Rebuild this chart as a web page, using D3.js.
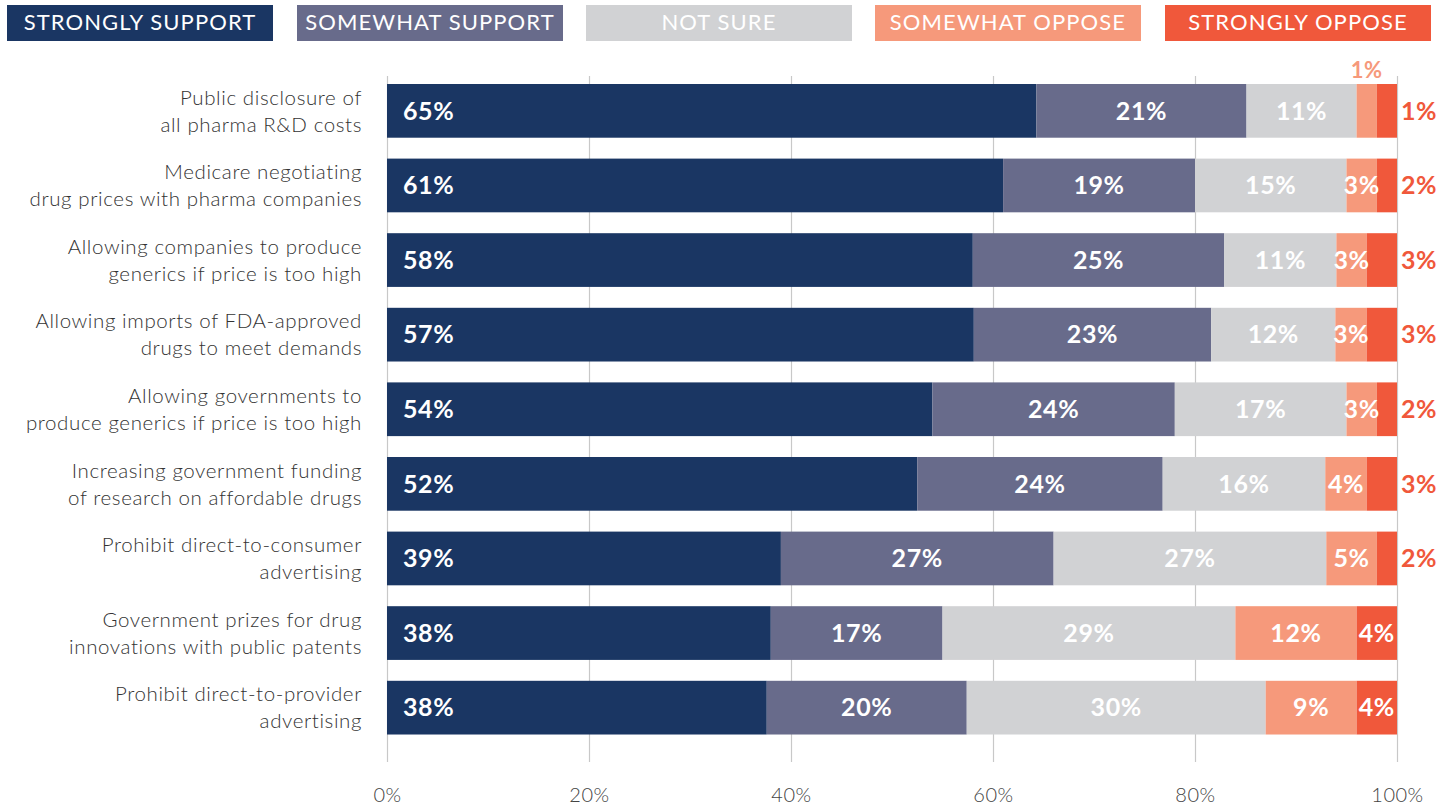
<!DOCTYPE html>
<html><head><meta charset="utf-8">
<script src="https://cdn.jsdelivr.net/npm/d3@7"></script>
<style>
html,body{margin:0;padding:0;background:#fff;}
svg{display:block;font-family:Lato,"Open Sans",sans-serif;}
</style></head>
<body>
<svg id="chart" width="1452" height="806"></svg>
<script>
const categories = [
  ["Public disclosure of","all pharma R&D costs"],
  ["Medicare negotiating","drug prices with pharma companies"],
  ["Allowing companies to produce","generics if price is too high"],
  ["Allowing imports of FDA-approved","drugs to meet demands"],
  ["Allowing governments to","produce generics if price is too high"],
  ["Increasing government funding","of research on affordable drugs"],
  ["Prohibit direct-to-consumer","advertising"],
  ["Government prizes for drug","innovations with public patents"],
  ["Prohibit direct-to-provider","advertising"]
];
const seriesNames = ["STRONGLY SUPPORT","SOMEWHAT SUPPORT","NOT SURE","SOMEWHAT OPPOSE","STRONGLY OPPOSE"];
const seriesColors = ["#1a3663","#686b8b","#d1d2d4","#f6997b","#f0583b"];
// segment widths (percent of respondents) as drawn
const stronglySupport = [64.3, 61, 58, 58.1, 54, 52.5, 39, 38, 37.6];
const somewhatSupport = [20.8, 19, 24.9, 23.5, 24, 24.3, 27, 17, 19.8];
const notSure         = [10.9, 15, 11.1, 12.3, 17, 16.1, 27, 29, 29.6];
const somewhatOppose  = [2.0, 3, 3, 3.1, 3, 4.1, 5, 12, 9];
const stronglyOppose  = [2.0, 2, 3, 3, 2, 3, 2, 4, 4];
// printed labels
const lblStronglySupport = [65, 61, 58, 57, 54, 52, 39, 38, 38];
const lblSomewhatSupport = [21, 19, 25, 23, 24, 24, 27, 17, 20];
const lblNotSure         = [11, 15, 11, 12, 17, 16, 27, 29, 30];
const lblSomewhatOppose  = [1, 3, 3, 3, 3, 4, 5, 12, 9];
const lblStronglyOppose  = [1, 2, 3, 3, 2, 3, 2, 4, 4];
const xTicks = [0, 20, 40, 60, 80, 100];

const values = [stronglySupport, somewhatSupport, notSure, somewhatOppose, stronglyOppose];
const labels = [lblStronglySupport, lblSomewhatSupport, lblNotSure, lblSomewhatOppose, lblStronglyOppose];

const svg = d3.select("#chart");
const x = d3.scaleLinear().domain([0, 100]).range([387, 1397]);
const step = 74.6;
const y = d3.scaleBand().domain(d3.range(categories.length))
  .range([84 - 0.14*step, 84 - 0.14*step + 9*step]).paddingInner(0.28).paddingOuter(0.14);

// legend
const legX = [7, 297, 586, 875, 1165];
const lg = svg.append("g");
seriesNames.forEach((n, i) => {
  lg.append("rect").attr("x", legX[i]).attr("y", 5).attr("width", 266).attr("height", 36).attr("fill", seriesColors[i]);
  lg.append("text").attr("x", legX[i] + 133).attr("y", 22).attr("dy", "0.35em")
    .attr("text-anchor", "middle").attr("fill", "#fff").attr("font-size", 22)
    .attr("letter-spacing", 1.1).text(n);
});

// axis + gridlines
const axisY = 762;
const ax = svg.append("g").attr("transform", `translate(0,${axisY})`)
  .call(d3.axisBottom(x).tickValues(xTicks).tickFormat(d => d + "%").tickSize(-(axisY - 76)).tickPadding(0));
ax.select(".domain").remove();
ax.selectAll(".tick line").attr("stroke", "#c8c8c8").attr("stroke-width", 1.2);
ax.selectAll(".tick text").attr("y", 33).attr("dy", "0.35em").attr("fill", "#444")
  .attr("font-size", 20).attr("font-weight", 300).attr("letter-spacing", 0.5).attr("font-family", "Lato, sans-serif");

// category labels
const cl = svg.append("g");
categories.forEach((c, i) => {
  const cy = y(i) + y.bandwidth()/2;
  const t = cl.append("text").attr("text-anchor", "end").attr("fill", "#333")
    .attr("font-size", 20.5).attr("font-weight", 300).attr("letter-spacing", 0.6);
  c.forEach((line, j) => {
    t.append("tspan").attr("x", 362).attr("y", cy + (j - (c.length-1)/2) * 27).attr("dy", "0.35em").text(line);
  });
});

// bars
const stackData = categories.map((c, i) => {
  const o = {i};
  values.forEach((v, k) => o["s" + k] = v[i]);
  return o;
});
const keys = values.map((v, k) => "s" + k);
const stacked = d3.stack().keys(keys)(stackData);
const bars = svg.append("g");
stacked.forEach((layer, k) => {
  bars.selectAll(null).data(layer).enter().append("rect")
    .attr("x", d => x(d[0])).attr("width", d => x(d[1]) - x(d[0]))
    .attr("y", d => y(d.data.i)).attr("height", y.bandwidth())
    .attr("fill", seriesColors[k]);
});

// value labels
const vl = svg.append("g").attr("font-weight", 700).attr("font-size", 25).attr("letter-spacing", 0.6);
stacked.forEach((layer, k) => {
  layer.forEach(d => {
    const i = d.data.i;
    const lbl = labels[k][i] + "%";
    const cy = y(i) + y.bandwidth()/2;
    const cx = (x(d[0]) + x(d[1])) / 2;
    if (k === 0) {
      vl.append("text").attr("x", x(d[0]) + 16).attr("y", cy).attr("dy", "0.35em").attr("fill", "#fff").text(lbl);
    } else if (k === 3 && labels[k][i] < 2) {
      vl.append("text").attr("x", cx).attr("y", y(i) - 14).attr("dy", "0.35em").attr("text-anchor", "middle")
        .attr("fill", seriesColors[3]).attr("font-size", 22).text(lbl);
    } else if (k === 4 && labels[k][i] <= 3) {
      vl.append("text").attr("x", x(d[1]) + 4).attr("y", cy).attr("dy", "0.35em").attr("fill", seriesColors[4]).text(lbl);
    } else {
      vl.append("text").attr("x", cx).attr("y", cy).attr("dy", "0.35em").attr("text-anchor", "middle").attr("fill", "#fff").text(lbl);
    }
  });
});
</script>
</body></html>
